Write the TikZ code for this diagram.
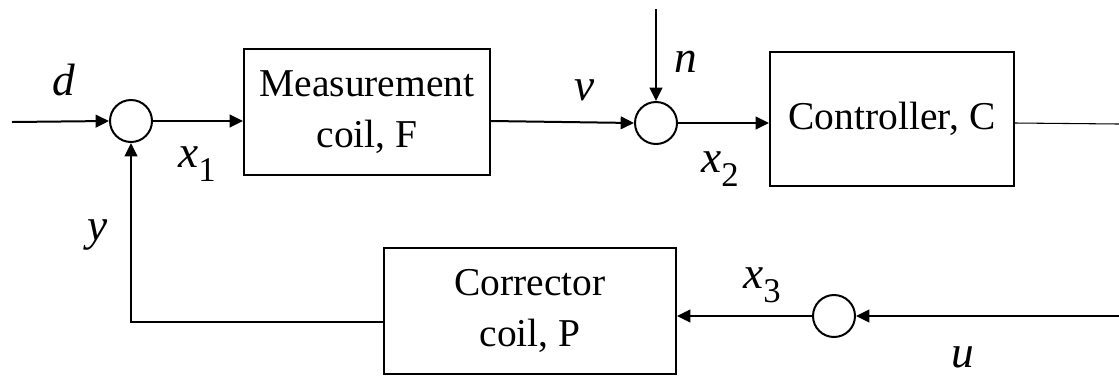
\documentclass[tikz,border=0pt]{standalone}
\usepackage{fontspec}
\setmainfont{Liberation Serif}
\usetikzlibrary{arrows.meta}
\newcommand\lsub[1]{\raisebox{-11pt}{\upshape\fontsize{26}{26}\selectfont #1}}
\begin{document}
\begin{tikzpicture}[x=0.75pt,y=-0.75pt,
 blk/.style={draw,line width=1.5pt,inner sep=0pt,align=center,font=\fontsize{29.6}{38}\selectfont},
 sum/.style={draw,circle,line width=1.5pt,minimum size=31.5pt,inner sep=0pt},
 conn/.style={line width=1.5pt,-{Triangle[length=10pt,width=9.5pt]}},
 lbl/.style={inner sep=0pt,font=\fontsize{34}{40}\selectfont\itshape}]
\useasboundingbox (0,0) rectangle (1119,376);
% blocks
\node[blk,minimum width=184.5pt,minimum height=94.5pt] (meas) at (367,112) {Measurement\\coil, F};
\node[blk,minimum width=183pt,minimum height=100.5pt] (ctrl) at (892,119) {Controller, C};
\node[blk,minimum width=219pt,minimum height=94.5pt] (corr) at (530,311) {Corrector\\coil, P};
% summing junctions
\node[sum] (s1) at (131,121) {};
\node[sum] (s2) at (656,123) {};
\node[sum] (s3) at (834,316) {};
% free ends
\coordinate (din) at (12,122);
\coordinate (nin) at (656,9);
\coordinate (outR) at (1119,124);
\coordinate (uin) at (1119,316);
\coordinate (fb) at (131,322);
% connectors
\draw[conn] (din) -- (s1.west);
\draw[conn] (s1.east) -- (s1.east -| meas.west);
\draw[conn] (s1.east -| meas.east) -- (s2.west);
\draw[conn] (nin) -- (s2.north);
\draw[conn] (s2.east) -- (s2.east -| ctrl.west);
\draw[line width=0.8pt] (s2.east -| ctrl.east) -- (outR);
\draw[conn] (uin) -- (s3.east);
\draw[conn] (s3.west) -- (s3.west -| corr.east);
\draw[conn] (fb -| corr.west) -- (fb) -- (s1.south);
% labels
\node[lbl,anchor=base] (ld) at (64,95) {d};
\node[lbl,anchor=base west] (lx1) at (178,167) {x\lsub{1}};
\node[lbl,anchor=base] (ly) at (98,240) {y};
\node[lbl,anchor=base] (lv) at (585,100) {v};
\node[lbl,anchor=base] (ln) at (686,72) {n};
\node[lbl,anchor=base west] (lx2) at (701,172) {x\lsub{2}};
\node[lbl,anchor=base west] (lx3) at (743,288) {x\lsub{3}};
\node[lbl,anchor=base] (lu) at (963,367) {u};
\end{tikzpicture}
\end{document}
